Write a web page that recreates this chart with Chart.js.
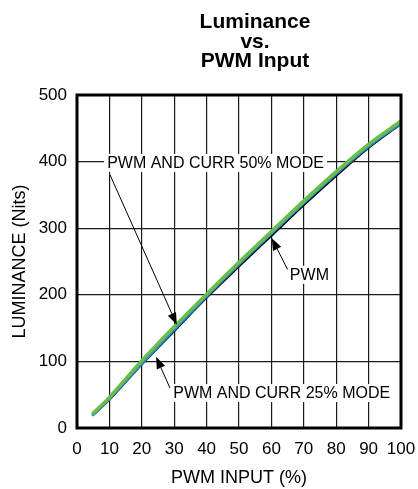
<!DOCTYPE html>
<html>
<head>
<meta charset="utf-8">
<script src="https://cdn.jsdelivr.net/npm/chart.js@4.4.0/dist/chart.umd.min.js"></script>
<style>
  html, body { margin: 0; padding: 0; background: #fff; }
  #wrap { width: 418px; height: 489px; position: relative; }
</style>
</head>
<body>
<div id="wrap"><canvas id="lumChart"></canvas></div>
<script>
// PWM input (%) sample points
const pwmInput = [5, 10, 20, 30, 40, 50, 60, 70, 80, 90, 100];
// luminance (nits)
const curr50Mode = [22, 46, 101, 152, 201, 249, 295, 341, 385, 426, 461];
const curr25Mode = [20, 44, 97, 148, 198, 246, 292, 338, 382, 423, 458];
const pwmOnly = [20, 43, 96, 146, 196, 243, 289, 335, 379, 421, 457];

const xTicks = [0, 10, 20, 30, 40, 50, 60, 70, 80, 90, 100];
const yTicks = [0, 100, 200, 300, 400, 500];

const titleLines = ["Luminance", "vs.", "PWM Input"];

// callouts: label, text anchor (x,y), arrow start, arrow tip -- all in data units
const callouts = [
  { text: "PWM AND CURR 50% MODE", at: [9.3, 398], from: [10.2, 380], to: [30.8, 155] },
  { text: "PWM", at: [65.7, 230], from: [65.0, 238], to: [60.1, 285] },
  { text: "PWM AND CURR 25% MODE", at: [29.7, 52.5], from: [28.7, 60], to: [24.4, 107] },
];

const FONT = "'Liberation Sans', Arial, Helvetica, sans-serif";

function toPoints(ys) {
  return pwmInput.map((x, i) => ({ x: x, y: ys[i] }));
}

// draws the frame, the callouts and the stacked title
const extrasPlugin = {
  id: "extras",
  afterDatasetsDraw(chart) {
    const ctx = chart.ctx;
    const area = chart.chartArea;
    const xs = chart.scales.x;
    const ys = chart.scales.y;

    ctx.save();
    ctx.font = "16px " + FONT;
    ctx.textBaseline = "middle";
    ctx.textAlign = "left";
    callouts.forEach((c) => {
      const tx = xs.getPixelForValue(c.at[0]);
      const ty = ys.getPixelForValue(c.at[1]);
      const w = ctx.measureText(c.text).width;
      ctx.fillStyle = "#fff";
      ctx.fillRect(tx - 3, ty - 9, w + 6, 18);
      ctx.fillStyle = "#000";
      ctx.fillText(c.text, tx, ty + 1);

      // arrow shaft
      const x0 = xs.getPixelForValue(c.from[0]);
      const y0 = ys.getPixelForValue(c.from[1]);
      const x1 = xs.getPixelForValue(c.to[0]);
      const y1 = ys.getPixelForValue(c.to[1]);
      const ang = Math.atan2(y1 - y0, x1 - x0);
      const headLen = 12, headW = 4.5;
      ctx.strokeStyle = "#000";
      ctx.lineWidth = 1;
      ctx.beginPath();
      ctx.moveTo(x0, y0);
      ctx.lineTo(x1 - Math.cos(ang) * headLen, y1 - Math.sin(ang) * headLen);
      ctx.stroke();
      // arrow head
      const bx = x1 - Math.cos(ang) * headLen;
      const by = y1 - Math.sin(ang) * headLen;
      ctx.fillStyle = "#000";
      ctx.beginPath();
      ctx.moveTo(x1, y1);
      ctx.lineTo(bx + Math.sin(ang) * headW, by - Math.cos(ang) * headW);
      ctx.lineTo(bx - Math.sin(ang) * headW, by + Math.cos(ang) * headW);
      ctx.closePath();
      ctx.fill();
    });

    // heavy frame round the plot
    ctx.strokeStyle = "#000";
    ctx.lineWidth = 3;
    ctx.strokeRect(area.left, area.top, area.right - area.left, area.bottom - area.top);

    // title
    ctx.font = "bold 21px " + FONT;
    ctx.textAlign = "center";
    ctx.textBaseline = "alphabetic";
    ctx.fillStyle = "#000";
    const cx = (area.left + area.right) / 2 + 16;
    titleLines.forEach((line, i) => {
      ctx.fillText(line, cx, 28 + i * 19.7);
    });
    ctx.restore();
  },
};

document.addEventListener("DOMContentLoaded", () => {
  const ctx = document.getElementById("lumChart").getContext("2d");
  new Chart(ctx, {
    type: "line",
    data: {
      datasets: [
        {
          label: "PWM and CURR 50% mode",
          data: toPoints(curr50Mode),
          borderColor: "#6cbd45",
          borderWidth: 3.5,
        },
        {
          label: "PWM and CURR 25% mode",
          data: toPoints(curr25Mode),
          borderColor: "#1b8fd6",
          borderWidth: 3,
        },
        {
          label: "PWM",
          data: toPoints(pwmOnly),
          borderColor: "#000000",
          borderWidth: 2.5,
        },
      ],
    },
    options: {
      responsive: true,
      maintainAspectRatio: false,
      animation: false,
      layout: { padding: { top: 95, right: 17, left: 0, bottom: 0 } },
      elements: {
        point: { radius: 0, hoverRadius: 0 },
        line: { cubicInterpolationMode: "monotone", borderCapStyle: "round" },
      },
      plugins: {
        legend: { display: false },
        tooltip: { enabled: false },
        title: { display: false },
      },
      scales: {
        x: {
          type: "linear",
          min: 0,
          max: 100,
          afterBuildTicks: (axis) => { axis.ticks = xTicks.map((v) => ({ value: v })); },
          afterFit: (axis) => {
            axis.height = 61;
            axis.paddingLeft = 0;
            axis.paddingRight = 0;
          },
          grid: { color: "#1a1a1a", lineWidth: 1.2, drawTicks: false },
          border: { display: false },
          ticks: {
            color: "#000",
            padding: 11,
            maxRotation: 0,
            font: { family: FONT, size: 17 },
          },
          title: {
            display: true,
            text: "PWM INPUT (%)",
            color: "#000",
            padding: { top: 0, bottom: 0 },
            font: { family: FONT, size: 18 },
          },
        },
        y: {
          type: "linear",
          min: 0,
          max: 500,
          afterBuildTicks: (axis) => { axis.ticks = yTicks.map((v) => ({ value: v })); },
          afterFit: (axis) => { axis.width = 77; },
          grid: { color: "#1a1a1a", lineWidth: 1.2, drawTicks: false },
          border: { display: false },
          ticks: {
            color: "#000",
            padding: 10,
            font: { family: FONT, size: 17 },
          },
          title: {
            display: true,
            text: "LUMINANCE (Nits)",
            color: "#000",
            padding: { top: 9, bottom: 0 },
            font: { family: FONT, size: 18 },
          },
        },
      },
    },
    plugins: [extrasPlugin],
  });
});
</script>
</body>
</html>
